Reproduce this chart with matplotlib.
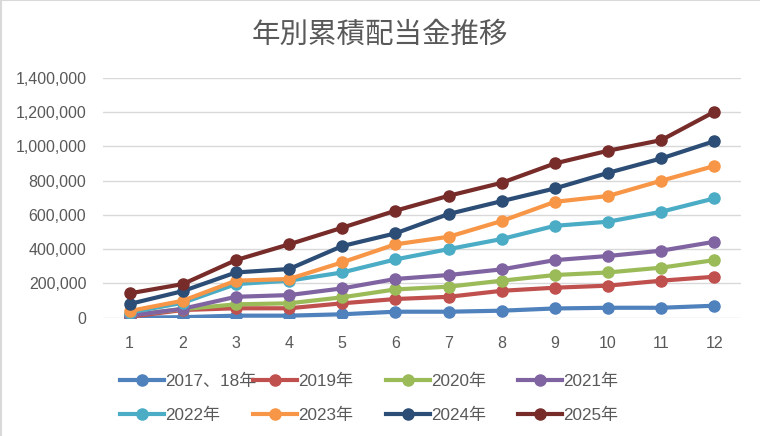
import matplotlib
matplotlib.use("Agg")
import matplotlib.pyplot as plt
from matplotlib.lines import Line2D

plt.rcParams['font.family'] = ['Liberation Sans', 'Noto Sans CJK JP']

months = list(range(1, 13))
labels = ['2017、18年', '2019年', '2020年', '2021年', '2022年', '2023年', '2024年', '2025年']
colors = ['#4F81BD', '#C0504D', '#9BBB59', '#8064A2', '#4BACC6', '#F79646', '#2C4D75', '#772C2A']

y2017_18 = [0, 3000, 12000, 12000, 20000, 35000, 35000, 41000, 54000, 58000, 58000, 70000]
y2019 = [5000, 45000, 55000, 55000, 84000, 109000, 122000, 157000, 175000, 187000, 216000, 239000]
y2020 = [15000, 50000, 78000, 84000, 119000, 165000, 181000, 216000, 249000, 264000, 292000, 336000]
y2021 = [12000, 52000, 122000, 132000, 171000, 226000, 249000, 282000, 336000, 360000, 391000, 443000]
y2022 = [30000, 87000, 196000, 216000, 264000, 340000, 400000, 459000, 536000, 560000, 618000, 696000]
y2023 = [39000, 99000, 216000, 226000, 323000, 428000, 472000, 564000, 676000, 710000, 799000, 885000]
y2024 = [80000, 155000, 264000, 284000, 418000, 492000, 605000, 680000, 754000, 845000, 929000, 1030000]
y2025 = [142000, 196000, 336000, 428000, 525000, 624000, 711000, 787000, 900000, 974000, 1036000, 1201000]
series = [y2017_18, y2019, y2020, y2021, y2022, y2023, y2024, y2025]

fig = plt.figure(figsize=(7.6, 4.36), dpi=100)
ax = fig.add_axes([0.1355, 0.2713, 0.8395, 0.5505])

for vals, lab, c in zip(series, labels, colors):
    ax.plot(months, vals, color=c, lw=3.0, marker='o', ms=8, label=lab,
            solid_capstyle='round')

ax.set_xlim(0.5, 12.5)
ax.set_ylim(0, 1400000)
ax.set_xticks(months)
ax.set_yticks(range(0, 1400001, 200000))
ax.set_yticklabels([f'{v:,}' for v in range(0, 1400001, 200000)])
ax.grid(axis='y', color='#D9D9D9', lw=1.0)
ax.set_axisbelow(True)
for s in ax.spines.values():
    s.set_visible(False)
ax.tick_params(axis='both', length=0, labelsize=11.5, colors='#595959')
ax.tick_params(axis='x', pad=13)
ax.tick_params(axis='y', pad=12)

fig.text(0.5, 1 - 35 / 436, '年別累積配当金推移', ha='center', va='center',
         fontsize=20.5, color='#595959', family=['Noto Sans CJK JP'])

# legend: 4 columns, 2 rows, equal column spacing like Excel
col_x = [120, 253, 386, 518]
for j in range(4):
    hs = []
    ls = []
    for i in (j, j + 4):
        hs.append(Line2D([], [], color=colors[i], lw=3.0, marker='o', ms=8))
        ls.append(labels[i])
    leg = fig.legend(hs, ls, loc='center left',
                     bbox_to_anchor=(col_x[j] / 760, 1 - 398.5 / 436),
                     frameon=False, borderpad=0, borderaxespad=0,
                     handlelength=2.55, handletextpad=0.12, labelspacing=1.1,
                     fontsize=12.3)
    for t in leg.get_texts():
        t.set_color('#595959')

# chart border (left / top)
fig.add_artist(Line2D([0.5 / 760, 0.5 / 760], [0, 1], color='#D9D9D9', lw=1.5))
fig.add_artist(Line2D([0, 1], [1 - 0.5 / 436, 1 - 0.5 / 436], color='#D9D9D9', lw=1.5))

fig.savefig('out.png', dpi=100)
